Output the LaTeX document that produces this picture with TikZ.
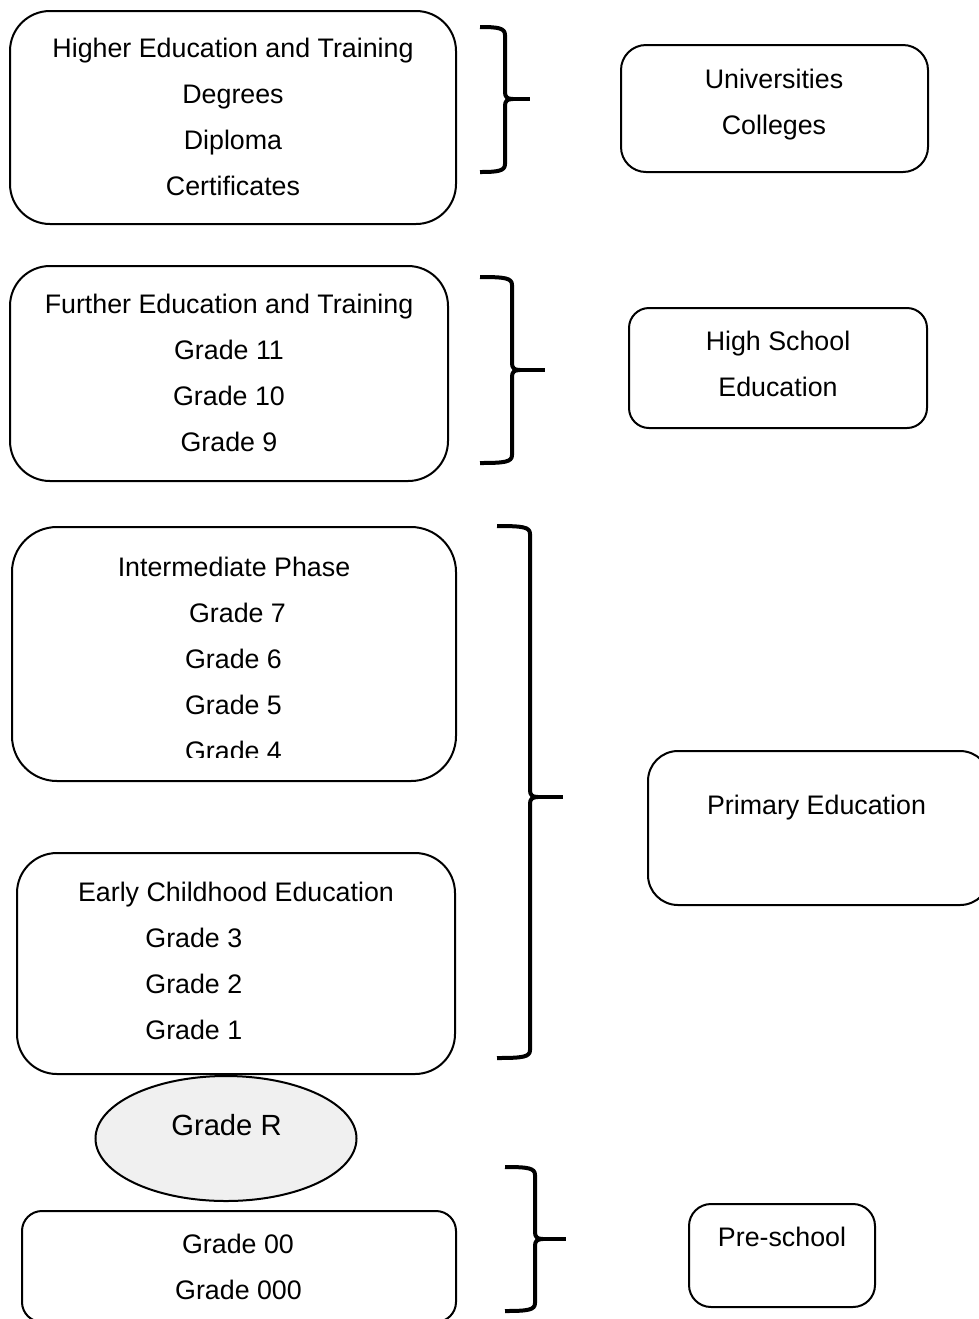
\documentclass[tikz,border=0pt]{standalone}
\usepackage{fontspec}
\setmainfont{Liberation Sans}
\usetikzlibrary{shapes.geometric}
\definecolor{ovalfill}{HTML}{F0F0F0}

% curly brace: left x, spine x, top y, tip y, bottom y, tip end x
\newcommand\educbrace[6]{%
  \draw[bracestyle] (#1,#3) .. controls (#2-7,#3) and (#2,#3+1) .. (#2,#3+8)
    -- (#2,#4-7) .. controls (#2,#4-2) and (#2+2,#4) .. (#2+8,#4)
    .. controls (#2+2,#4) and (#2,#4+2) .. (#2,#4+7)
    -- (#2,#5-8) .. controls (#2,#5-1) and (#2-7,#5) .. (#1,#5);
  \draw[bracestyle] (#2+6,#4) -- (#6,#4);}

\begin{document}
\begin{tikzpicture}[x=0.5pt,y=-0.5pt,
  box/.style={draw, line width=1pt, inner sep=0pt, outer sep=0pt, rectangle},
  lbl/.style={anchor=base, inner sep=0pt, font=\fontsize{13.4}{16}\selectfont},
  lblw/.style={lbl, anchor=base west},
  bracestyle/.style={line width=2pt, line join=round}]
\useasboundingbox (0,0) rectangle (979,1319);
\clip (0,0) rectangle (979,1319);

% ---- Higher education ----
\node[box, rounded corners=20pt, minimum width=223pt, minimum height=106.5pt] (hetbox) at (233,117.5) {};
\node[lbl] (het1) at (233,57)  {Higher Education and Training};
\node[lbl] (het2) at (233,103) {Degrees};
\node[lbl] (het3) at (233,149) {Diploma};
\node[lbl] (het4) at (233,195) {Certificates};
\educbrace{480}{505}{27}{99}{172}{530}
\node[box, rounded corners=12.5pt, minimum width=153.5pt, minimum height=63.5pt] (unibox) at (774.5,108.5) {};
\node[lbl] (uni1) at (774,88)  {Universities};
\node[lbl] (uni2) at (774,134) {Colleges};

% ---- Further education ----
\node[box, rounded corners=20pt, minimum width=219pt, minimum height=107.5pt] (fetbox) at (229,373.5) {};
\node[lbl] (fet1) at (229,313) {Further Education and Training};
\node[lbl] (fet2) at (229,359) {Grade 11};
\node[lbl] (fet3) at (229,405) {Grade 10};
\node[lbl] (fet4) at (229,451) {Grade 9};
\educbrace{480}{512}{277}{370}{463}{545}
\node[box, rounded corners=10pt, minimum width=149pt, minimum height=60pt] (hsbox) at (778,368) {};
\node[lbl] (hs1) at (778,350) {High School};
\node[lbl] (hs2) at (778,396) {Education};

% ---- Intermediate phase ----
\node[box, rounded corners=22.5pt, minimum width=222pt, minimum height=127pt] (intbox) at (234,654) {};
\node[lbl] (int1) at (234,576)   {Intermediate Phase};
\node[lbl] (int2) at (237.5,622) {Grade 7};
\node[lbl] (int3) at (233.5,668) {Grade 6};
\node[lbl] (int4) at (233.5,714) {Grade 5};
\begin{scope}
  \clip (12,527) rectangle (456,757);
  \node[lbl] (int5) at (233.5,760) {Grade 4};
\end{scope}

% ---- Early childhood ----
\node[box, rounded corners=20pt, minimum width=219pt, minimum height=110.5pt] (ecbox) at (236,963.5) {};
\node[lbl]  (ec1) at (236,901)  {Early Childhood Education};
\node[lblw] (ec2) at (145,947)  {Grade 3};
\node[lblw] (ec3) at (145,993)  {Grade 2};
\node[lblw] (ec4) at (145,1039) {Grade 1};

\educbrace{497}{530}{526}{797}{1058}{563}
\node[box, rounded corners=15pt, minimum width=171pt, minimum height=77pt] (primbox) at (819,828) {};
\node[lbl] (prim) at (816.5,814) {Primary Education};

% ---- Grade R ----
\node[ellipse, draw, line width=1pt, fill=ovalfill, inner sep=0pt,
      minimum width=130.5pt, minimum height=62.5pt] (gr) at (226,1138.5) {};
\node[lbl, font=\fontsize{14.6}{17}\selectfont] (grt) at (226.5,1135) {Grade R};

% ---- Pre-school ----
\node[box, rounded corners=10pt, minimum width=217pt, minimum height=55.5pt] (psbox) at (239,1266.5) {};
\node[lbl] (ps1) at (238,1253)   {Grade 00};
\node[lbl] (ps2) at (238.5,1299) {Grade 000};
\educbrace{505}{535}{1167}{1239}{1311}{566}
\node[box, rounded corners=11pt, minimum width=93pt, minimum height=51.5pt] (prebox) at (782,1255.5) {};
\node[lbl] (pre) at (782,1246) {Pre-school};
\end{tikzpicture}
\end{document}
